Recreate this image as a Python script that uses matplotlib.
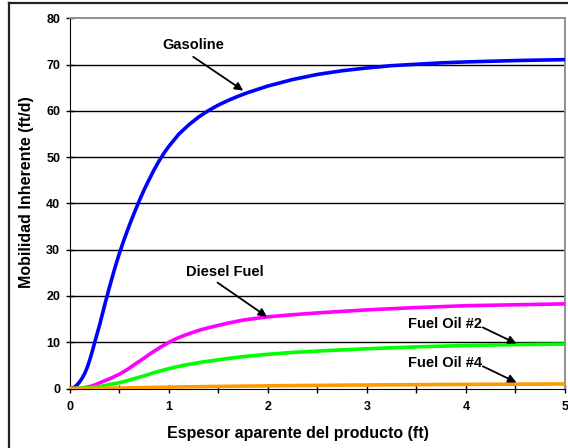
import matplotlib
matplotlib.use("Agg")
import matplotlib.pyplot as plt
from matplotlib.lines import Line2D

plt.rcParams['font.family'] = ['Liberation Sans', 'DejaVu Sans']
plt.rcParams['font.weight'] = 'bold'

# apparent product thickness (ft) vs inherent mobility (ft/d)
x_gas = [0, 0.02, 0.05, 0.075, 0.1, 0.125, 0.15, 0.175, 0.2, 0.225, 0.25, 0.3, 0.35,
         0.4, 0.45, 0.5, 0.55, 0.6, 0.65, 0.7, 0.75, 0.8, 0.85, 0.9, 0.95, 1.0,
         1.1, 1.2, 1.3, 1.4, 1.5, 1.6, 1.7, 1.8, 1.9, 2.0, 2.25, 2.5, 2.75, 3.0,
         3.25, 3.5, 3.75, 4.0, 4.5, 5.0]
y_gas = [0, 0.05, 0.35, 0.85, 1.5, 2.3, 3.3, 4.6, 6.2, 8.0, 10, 13.8, 18,
         22, 25.8, 29.3, 32.4, 35.3, 38, 40.6, 43.0, 45.2, 47.3, 49.2, 50.9, 52.4,
         55, 57, 58.7, 60.1, 61.3, 62.3, 63.2, 64.0, 64.7, 65.4, 66.8, 67.9, 68.7, 69.3,
         69.8, 70.1, 70.4, 70.6, 70.9, 71.1]

x_diesel = [0, 0.1, 0.15, 0.2, 0.25, 0.32, 0.4, 0.5, 0.58, 0.66, 0.75, 0.83, 0.92,
            1.0, 1.08, 1.17, 1.25, 1.33, 1.42, 1.5, 1.6, 1.75, 2.0, 2.25, 2.5,
            3.0, 3.5, 4.0, 4.5, 5.0]
y_diesel = [0, 0.05, 0.2, 0.42, 0.75, 1.4, 2.1, 3.1, 4.1, 5.3, 6.6, 7.8, 9.0,
            10.0, 10.85, 11.6, 12.2, 12.75, 13.25, 13.65, 14.15, 14.8, 15.5, 15.95, 16.35,
            17.0, 17.5, 17.9, 18.1, 18.3]

x_fo2 = [0, 0.1, 0.2, 0.32, 0.4, 0.5, 0.58, 0.66, 0.75, 0.83, 0.92, 1.0, 1.08,
         1.17, 1.25, 1.33, 1.5, 1.6, 1.75, 2.0, 2.25, 2.5, 3.0, 3.5, 4.0, 4.5, 5.0]
y_fo2 = [0, 0.05, 0.2, 0.5, 0.85, 1.25, 1.7, 2.2, 2.75, 3.3, 3.85, 4.3, 4.7,
         5.1, 5.4, 5.7, 6.2, 6.5, 6.9, 7.4, 7.8, 8.1, 8.6, 9.0, 9.3, 9.5, 9.6]

x_fo4 = [0, 0.25, 0.5, 1.0, 1.5, 2.0, 2.5, 3.0, 3.5, 4.0, 4.5, 5.0]
y_fo4 = [0, 0.03, 0.1, 0.3, 0.45, 0.58, 0.68, 0.76, 0.83, 0.89, 0.94, 0.98]

labels = ['Gasoline', 'Diesel Fuel', 'Fuel Oil #2', 'Fuel Oil #4']

fig = plt.figure(figsize=(5.68, 4.48), dpi=100)
ax = fig.add_axes([0.1232, 0.1328, 0.8715, 0.826])

# outer frame (left and top edges only)
fig.add_artist(Line2D([9 / 568, 9 / 568], [0, 445 / 448], transform=fig.transFigure,
                      color='#222222', lw=1.6))
fig.add_artist(Line2D([9 / 568, 1], [445 / 448, 445 / 448], transform=fig.transFigure,
                      color='#222222', lw=1.6))

for yv in range(10, 80, 10):
    ax.axhline(yv, color='black', lw=1.0, zorder=1)

style = dict(lw=2.6, zorder=3, solid_joinstyle='round', solid_capstyle='butt')
ax.plot(x_gas, y_gas, color='#0000ff', **style)
ax.plot(x_diesel, y_diesel, color='#ff00ff', **style)
ax.plot(x_fo2, y_fo2, color='#00ff00', **style)
ax.plot(x_fo4, y_fo4, color='#ff9900', **style)

ax.set_xlim(0, 5)
ax.set_ylim(0, 80)
ax.set_xticks([i * 0.5 for i in range(11)])
ax.set_xticklabels(['0', '', '1', '', '2', '', '3', '', '4', '', '5'])
ax.set_yticks(range(0, 90, 10))
ax.tick_params(axis='both', direction='inout', length=6, width=1, labelsize=9, pad=4)
ax.tick_params(axis='x', pad=6)

ax.spines['left'].set_color('black')
ax.spines['bottom'].set_color('black')
ax.spines['top'].set_color('#909090')
ax.spines['right'].set_color('#909090')
ax.spines['top'].set_linewidth(1.4)
ax.spines['right'].set_linewidth(1.4)

fig.text(297.8 / 568, 1 - 433.3 / 448, 'Espesor aparente del producto (ft)',
         ha='center', va='center', fontsize=11.5, fontweight='bold')
fig.text(26.7 / 568, 1 - 192.5 / 448, 'Mobilidad Inherente (ft/d)', rotation=90,
         ha='center', va='center', fontsize=11.5, fontweight='bold')

arrow = dict(arrowstyle='-|>', color='black', lw=1.3, mutation_scale=12,
             shrinkA=0, shrinkB=0)
ax.annotate('', xy=(1.75, 64.4), xytext=(1.245, 71.7), arrowprops=arrow)
ax.text(1.25, 74.3, labels[0], ha='center', va='center', fontsize=10.5, fontweight='bold')
ax.annotate('', xy=(1.99, 15.5), xytext=(1.49, 22.9), arrowprops=arrow)
ax.text(1.56, 25.2, labels[1], ha='center', va='center', fontsize=10.5, fontweight='bold')
ax.annotate('', xy=(4.51, 9.7), xytext=(4.17, 13.2), arrowprops=arrow)
ax.text(3.79, 13.85, labels[2], ha='center', va='center', fontsize=10.5, fontweight='bold')
ax.annotate('', xy=(4.51, 1.3), xytext=(4.17, 4.8), arrowprops=arrow)
ax.text(3.79, 5.5, labels[3], ha='center', va='center', fontsize=10.5, fontweight='bold')

fig.savefig('out.png', dpi=100)
